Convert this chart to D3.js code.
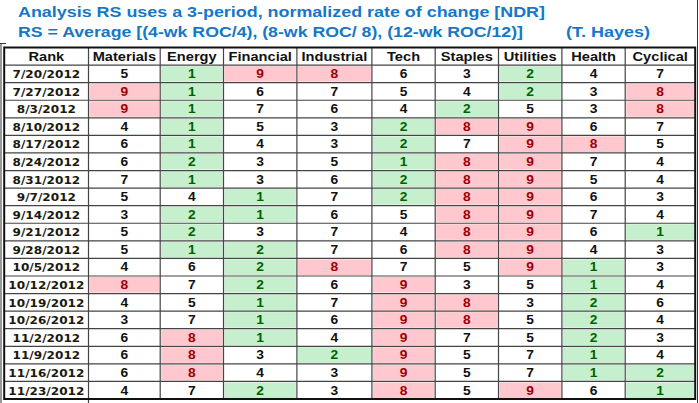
<!DOCTYPE html>
<html><head><meta charset="utf-8">
<script src="https://cdn.jsdelivr.net/npm/d3@7"></script>
<style>body{margin:0;background:#fff}svg{display:block}</style>
</head><body><svg id="c" width="699" height="403"></svg>
<script>
// ---- data ----
const titleLine1 = "Analysis RS uses a 3-period, normalized rate of change [NDR]";
const titleLine2 = "RS = Average [(4-wk ROC/4), (8-wk ROC/ 8), (12-wk ROC/12)]";
const titleAuthor = "(T. Hayes)";
const rankLabel = "Rank";
const sectors = ["Materials","Energy","Financial","Industrial","Tech","Staples","Utilities","Health","Cyclical"];
const dates = ["7/20/2012","7/27/2012","8/3/2012","8/10/2012","8/17/2012","8/24/2012","8/31/2012","9/7/2012","9/14/2012","9/21/2012","9/28/2012","10/5/2012","10/12/2012","10/19/2012","10/26/2012","11/2/2012","11/9/2012","11/16/2012","11/23/2012"];
const materials  = [5,9,9,4,6,6,7,5,3,5,5,4,8,4,3,6,6,6,4];
const energy     = [1,1,1,1,1,2,1,4,2,2,1,6,7,5,7,8,8,8,7];
const financial  = [9,6,7,5,4,3,3,1,1,3,2,2,2,1,1,1,3,4,2];
const industrial = [8,7,6,3,3,5,6,7,6,7,7,8,6,7,6,4,2,3,3];
const tech       = [6,5,4,2,2,1,2,2,5,4,6,7,9,9,9,9,9,9,8];
const staples    = [3,4,2,8,7,8,8,8,8,8,8,5,3,8,8,7,5,5,5];
const utilities  = [2,2,5,9,9,9,9,9,9,9,9,9,5,3,5,5,7,7,9];
const health     = [4,3,3,6,8,7,5,6,7,6,4,1,1,2,2,2,1,1,6];
const cyclical   = [7,8,8,7,5,4,4,3,4,1,3,3,4,6,4,3,4,2,1];
const series = [materials,energy,financial,industrial,tech,staples,utilities,health,cyclical];

// ---- layout ----
const svg = d3.select("#c");
const colNames = [rankLabel, ...sectors];
const colWidths = [84.3,71.7,63.3,73.4,75,63.3,63.3,63.4,63.3,70];
const tableLeft = 4.2;
const lefts = [tableLeft, ...Array.from(d3.cumsum(colWidths)).map(v => tableLeft + v)];
const x = d3.scaleOrdinal(colNames, lefts.slice(0, -1));
const w = d3.scaleOrdinal(colNames, colWidths);
const y = d3.scaleBand().domain([rankLabel, ...dates]).range([47.5, 399]);
const tableRight = lefts[lefts.length - 1];

const good = {fill:"#c6efce", text:"#006100"};
const bad  = {fill:"#ffc7ce", text:"#9c0006"};
const style = v => v <= 2 ? good : (v >= 8 ? bad : null);

// title
const blue = "#1677c9";
svg.append("text").attr("x",18).attr("y",17).attr("fill",blue)
  .attr("font-family","Liberation Sans, Arial, sans-serif").attr("font-weight","bold").attr("font-size",15)
  .attr("textLength",527).attr("lengthAdjust","spacingAndGlyphs").text(titleLine1);
svg.append("text").attr("x",18).attr("y",37).attr("fill",blue)
  .attr("font-family","Liberation Sans, Arial, sans-serif").attr("font-weight","bold").attr("font-size",15)
  .attr("textLength",505).attr("lengthAdjust","spacingAndGlyphs").text(titleLine2);
svg.append("text").attr("x",566).attr("y",37).attr("fill",blue)
  .attr("font-family","Liberation Sans, Arial, sans-serif").attr("font-weight","bold").attr("font-size",15)
  .attr("textLength",84).attr("lengthAdjust","spacingAndGlyphs").text(titleAuthor);

// frame
svg.append("line").attr("x1",1).attr("x2",1).attr("y1",43).attr("y2",403).attr("stroke","#333").attr("stroke-width",1);
svg.append("line").attr("x1",0).attr("x2",6).attr("y1",43.5).attr("y2",43.5).attr("stroke","#333").attr("stroke-width",1);
svg.append("line").attr("x1",697.5).attr("x2",697.5).attr("y1",0).attr("y2",403).attr("stroke","#333").attr("stroke-width",1);

// cells
const cells = [];
dates.forEach((d, i) => sectors.forEach((s, j) => cells.push({date:d, sector:s, value:series[j][i]})));

svg.append("g").selectAll("rect").data(cells.filter(c => style(c.value))).join("rect")
  .attr("x", c => x(c.sector) + 1).attr("y", c => y(c.date) + 1)
  .attr("width", c => w(c.sector) - 2).attr("height", y.bandwidth() - 2)
  .attr("fill", c => style(c.value).fill);

// grid lines
const grid = svg.append("g").attr("stroke","#444").attr("stroke-width",1.2);
grid.selectAll("line.h").data(dates).join("line").attr("class","h")
  .attr("x1", tableLeft).attr("x2", tableRight).attr("y1", d => y(d)).attr("y2", d => y(d));
grid.selectAll("line.v").data(colNames.slice(1)).join("line").attr("class","v")
  .attr("x1", c => x(c)).attr("x2", c => x(c)).attr("y1", y.range()[0]).attr("y2", y.range()[1]);
svg.append("line").attr("x1", x(sectors[0])).attr("x2", x(sectors[0])).attr("y1", y.range()[1]).attr("y2", 403).attr("stroke","#444").attr("stroke-width",1.2);
svg.append("rect").attr("x", tableLeft).attr("y", y.range()[0]).attr("width", tableRight - tableLeft)
  .attr("height", y.range()[1] - y.range()[0]).attr("fill","none").attr("stroke","#111").attr("stroke-width",2);

// header text
const cy = d => y(d) + y.bandwidth() / 2 + 4.3;
svg.append("g").selectAll("text").data(colNames).join("text")
  .attr("transform", c => `translate(${x(c) + w(c)/2},${cy(rankLabel)}) scale(1.22,1)`)
  .attr("text-anchor","middle").attr("font-family","Liberation Sans, Arial, sans-serif")
  .attr("font-weight","bold").attr("font-size",12).attr("fill","#111").text(c => c);

// date labels
svg.append("g").selectAll("text").data(dates).join("text")
  .attr("transform", d => `translate(${x(rankLabel) + w(rankLabel)/2},${cy(d)}) scale(1.13,1)`)
  .attr("text-anchor","middle").attr("font-family","DejaVu Sans, Verdana, sans-serif")
  .attr("font-weight","bold").attr("font-size",10.7).attr("fill","#1a1a10").text(d => d);

// values
svg.append("g").selectAll("text").data(cells).join("text")
  .attr("transform", c => `translate(${x(c.sector) + w(c.sector)/2},${cy(c.date)}) scale(1.15,1)`)
  .attr("text-anchor","middle").attr("font-family","Liberation Sans, Arial, sans-serif")
  .attr("font-weight","bold").attr("font-size",12)
  .attr("fill", c => style(c.value) ? style(c.value).text : "#111").text(c => c.value);
</script></body></html>
